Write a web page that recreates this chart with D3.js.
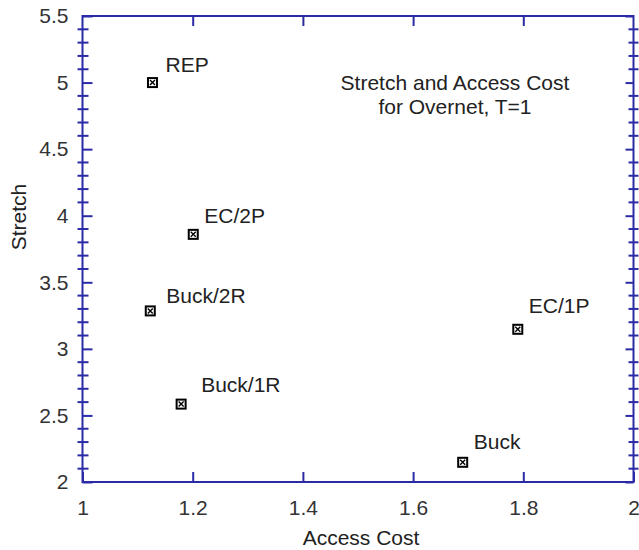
<!DOCTYPE html>
<html>
<head>
<meta charset="utf-8">
<script src="https://cdn.jsdelivr.net/npm/d3@7"></script>
<style>
  body { margin: 0; background: #fff; }
  text { font-family: "Liberation Sans", Arial, sans-serif; }
</style>
</head>
<body>
<div id="chart"></div>
<script>
const labels = ["REP", "EC/2P", "Buck/2R", "Buck/1R", "EC/1P", "Buck"]
const accessCost = [1.127, 1.201, 1.123, 1.179, 1.790, 1.690]
const stretch = [5.0, 3.86, 3.285, 2.585, 3.147, 2.148]
const xTicks = [1, 1.2, 1.4, 1.6, 1.8, 2]
const yTicks = [2, 2.5, 3, 3.5, 4, 4.5, 5, 5.5]
const yMinorTicks = d3.range(20, 56).map(d => d / 10)
const titleLines = ["Stretch and Access Cost", "for Overnet, T=1"]

// hand placed label offsets (px), as in the original
const LABEL_DX = [13, 11, 16, 20, 11, 11]
const LABEL_DY = [-11, -11, -8, -12, -16, -13]

const MARGIN = {TOP: 16, BOTTOM: 68, LEFT: 82.5, RIGHT: 5.5}
const WIDTH = 639 - MARGIN.LEFT - MARGIN.RIGHT
const HEIGHT = 550 - MARGIN.TOP - MARGIN.BOTTOM
const AXIS = "#2b2ba6"
const FONT = "21px"

const svg = d3.select("#chart")
  .append("svg")
    .attr("width", 639)
    .attr("height", 550)
  .append("g")
    .attr("transform", `translate(${MARGIN.LEFT}, ${MARGIN.TOP})`)

const x = d3.scaleLinear().domain([1, 2]).range([0, WIDTH])
const y = d3.scaleLinear().domain([2, 5.5]).range([HEIGHT, 0])

const data = labels.map((name, i) => ({name, x: accessCost[i], y: stretch[i], i}))

// frame
svg.append("rect")
  .attr("width", WIDTH)
  .attr("height", HEIGHT)
  .attr("fill", "none")
  .attr("stroke", AXIS)
  .attr("stroke-width", 2)

// minor y ticks cross the left and right axes
const minor = yMinorTicks.filter(v => Math.round(v * 10) % 5 !== 0)
svg.selectAll(".minorL").data(minor).enter().append("line")
  .attr("x1", -5).attr("x2", 6)
  .attr("y1", d => y(d)).attr("y2", d => y(d))
  .attr("stroke", AXIS).attr("stroke-width", 2)
svg.selectAll(".minorR").data(minor).enter().append("line")
  .attr("x1", WIDTH - 5).attr("x2", WIDTH + 5)
  .attr("y1", d => y(d)).attr("y2", d => y(d))
  .attr("stroke", AXIS).attr("stroke-width", 2)

function styleAxis(g) {
  g.select(".domain").remove()
  g.selectAll(".tick line").attr("stroke", AXIS).attr("stroke-width", 2)
  g.selectAll(".tick text")
    .attr("fill", "#333")
    .style("font-size", FONT)
    .style("font-family", "'Liberation Sans', Arial, sans-serif")
}

svg.append("g")
  .attr("transform", `translate(0, ${HEIGHT})`)
  .call(d3.axisBottom(x).tickValues(xTicks).tickSizeInner(-10).tickSizeOuter(0)
    .tickPadding(18).tickFormat(d3.format("")))
  .call(styleAxis)

svg.append("g")
  .call(d3.axisTop(x).tickValues(xTicks.slice(1, -1)).tickSizeInner(-10).tickSizeOuter(0)
    .tickFormat(""))
  .call(styleAxis)

svg.append("g")
  .call(d3.axisLeft(y).tickValues(yTicks).tickSizeInner(-10).tickSizeOuter(0)
    .tickPadding(14).tickFormat(d3.format("")))
  .call(styleAxis)

svg.append("g")
  .attr("transform", `translate(${WIDTH}, 0)`)
  .call(d3.axisRight(y).tickValues(yTicks).tickSizeInner(-8).tickSizeOuter(0)
    .tickFormat(""))
  .call(styleAxis)

// axis titles
svg.append("text")
  .attr("x", WIDTH / 2 + 3)
  .attr("y", HEIGHT + 63)
  .attr("text-anchor", "middle")
  .attr("fill", "#222")
  .style("font-size", FONT)
  .text("Access Cost")

svg.append("text")
  .attr("transform", "rotate(-90)")
  .attr("x", -(217 - MARGIN.TOP))
  .attr("y", 26 - MARGIN.LEFT)
  .attr("text-anchor", "middle")
  .attr("fill", "#222")
  .style("font-size", FONT)
  .text("Stretch")

// chart title inside plot
svg.selectAll(".title").data(titleLines).enter().append("text")
  .attr("x", 455 - MARGIN.LEFT)
  .attr("y", (d, i) => 90 - MARGIN.TOP + i * 24)
  .attr("text-anchor", "middle")
  .attr("fill", "#222")
  .style("font-size", FONT)
  .text(d => d)

// markers: boxed cross
const pts = svg.selectAll(".pt").data(data).enter().append("g")
  .attr("transform", d => `translate(${x(d.x)}, ${y(d.y)})`)

pts.append("rect")
  .attr("x", -4.5).attr("y", -4.5)
  .attr("width", 9).attr("height", 9)
  .attr("fill", "#fff")
  .attr("stroke", "#000")
  .attr("stroke-width", 2)
pts.append("path")
  .attr("d", "M-2.5,-2.5L2.5,2.5M-2.5,2.5L2.5,-2.5")
  .attr("stroke", "#000")
  .attr("stroke-width", 1.4)

pts.append("text")
  .attr("x", d => LABEL_DX[d.i])
  .attr("y", d => LABEL_DY[d.i])
  .attr("fill", "#222")
  .style("font-size", FONT)
  .text(d => d.name)
</script>
</body>
</html>
